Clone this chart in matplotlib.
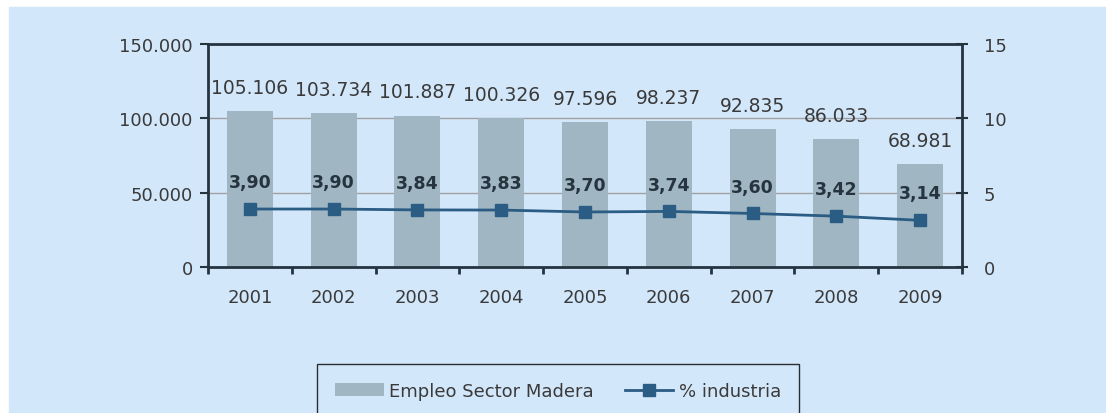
import matplotlib.pyplot as plt
from matplotlib.lines import Line2D
from matplotlib.patches import Patch

years = ["2001", "2002", "2003", "2004", "2005", "2006", "2007", "2008", "2009"]
empleo = [105106, 103734, 101887, 100326, 97596, 98237, 92835, 86033, 68981]
pct_industria = [3.90, 3.90, 3.84, 3.83, 3.70, 3.74, 3.60, 3.42, 3.14]

BG = "#D3E7FB"
BAR = "#A0B6C2"
LINE = "#2B5C84"
DARK = "#26343F"
TXT = "#3A3A3A"


def fmt_miles(v):
    return f"{v:,.0f}".replace(",", ".")


def main():
    plt.rcParams["font.family"] = ["DejaVu Sans"]
    fig = plt.figure(figsize=(11.06, 4.14), dpi=100)
    fig.patch.set_facecolor("white")
    # blue panel with white margin at top/left
    fig.patches.append(plt.Rectangle((9 / 1106, 0), 1, 1 - 8 / 414,
                                     transform=fig.transFigure, color=BG, zorder=-10))

    ax = fig.add_axes([208 / 1106, 1 - 268 / 414, (962 - 208) / 1106, (268 - 45) / 414])
    ax.set_facecolor("none")
    x = list(range(len(years)))

    ax.bar(x, empleo, width=0.55, color=BAR, zorder=2)
    ax.set_ylim(0, 150000)
    ax.set_xlim(-0.5, len(years) - 0.5)
    ax.set_yticks([0, 50000, 100000, 150000])
    ax.set_yticklabels([fmt_miles(v) for v in [0, 50000, 100000, 150000]],
                       fontsize=13, color=TXT)
    for yv in [50000, 100000]:
        ax.axhline(yv, color="#A0A0A0", lw=1, zorder=1)
    for xi, v in zip(x, empleo):
        ax.text(xi, v + 9500, fmt_miles(v), ha="center", va="bottom",
                fontsize=13.5, color=TXT)

    ax.set_xticks(x)
    ax.set_xticklabels(years, fontsize=13, color=TXT)
    ax.tick_params(axis="x", length=0, pad=15)
    ax.set_xticks([i + 0.5 for i in range(-1, len(years))], minor=True)
    ax.tick_params(axis="x", which="minor", length=5, width=2, color=DARK, direction="out")
    ax.tick_params(axis="y", length=6, width=1.5, color=DARK, direction="out", pad=5)
    for s in ax.spines.values():
        s.set_color(DARK)
        s.set_linewidth(2)

    ax2 = ax.twinx()
    ax2.plot(x, pct_industria, color=LINE, lw=2, marker="s", markersize=9,
             markerfacecolor=LINE, markeredgecolor=LINE, zorder=3)
    ax2.set_ylim(0, 15)
    ax2.set_yticks([0, 5, 10, 15])
    ax2.set_yticklabels(["0", "5", "10", "15"], fontsize=13, color=TXT)
    ax2.tick_params(axis="y", length=9, width=1.5, color=DARK, direction="inout", pad=11)
    for s in ax2.spines.values():
        s.set_visible(False)
    for xi, v in zip(x, pct_industria):
        ax2.text(xi, v + 1.2, f"{v:.2f}".replace(".", ","), ha="center", va="bottom",
                 fontsize=12.5, fontweight="bold", color=DARK)

    handles = [Patch(facecolor=BAR, edgecolor="none"),
               Line2D([0], [0], color=LINE, lw=2, marker="s", markersize=8)]
    leg = fig.legend(handles, ["Empleo Sector Madera", "% industria"],
                     loc="upper left", bbox_to_anchor=(317 / 1106, 1 - 365 / 414),
                     ncol=2, frameon=True, fancybox=False, fontsize=13,
                     handlelength=2.7, borderpad=1.0, borderaxespad=0,
                     columnspacing=1.7, handletextpad=0.3,
                     labelcolor=TXT, facecolor=BG, edgecolor="black")
    leg.get_frame().set_linewidth(1)

    fig.savefig("out.png", dpi=100, facecolor=fig.get_facecolor())


if __name__ == "__main__":
    main()
